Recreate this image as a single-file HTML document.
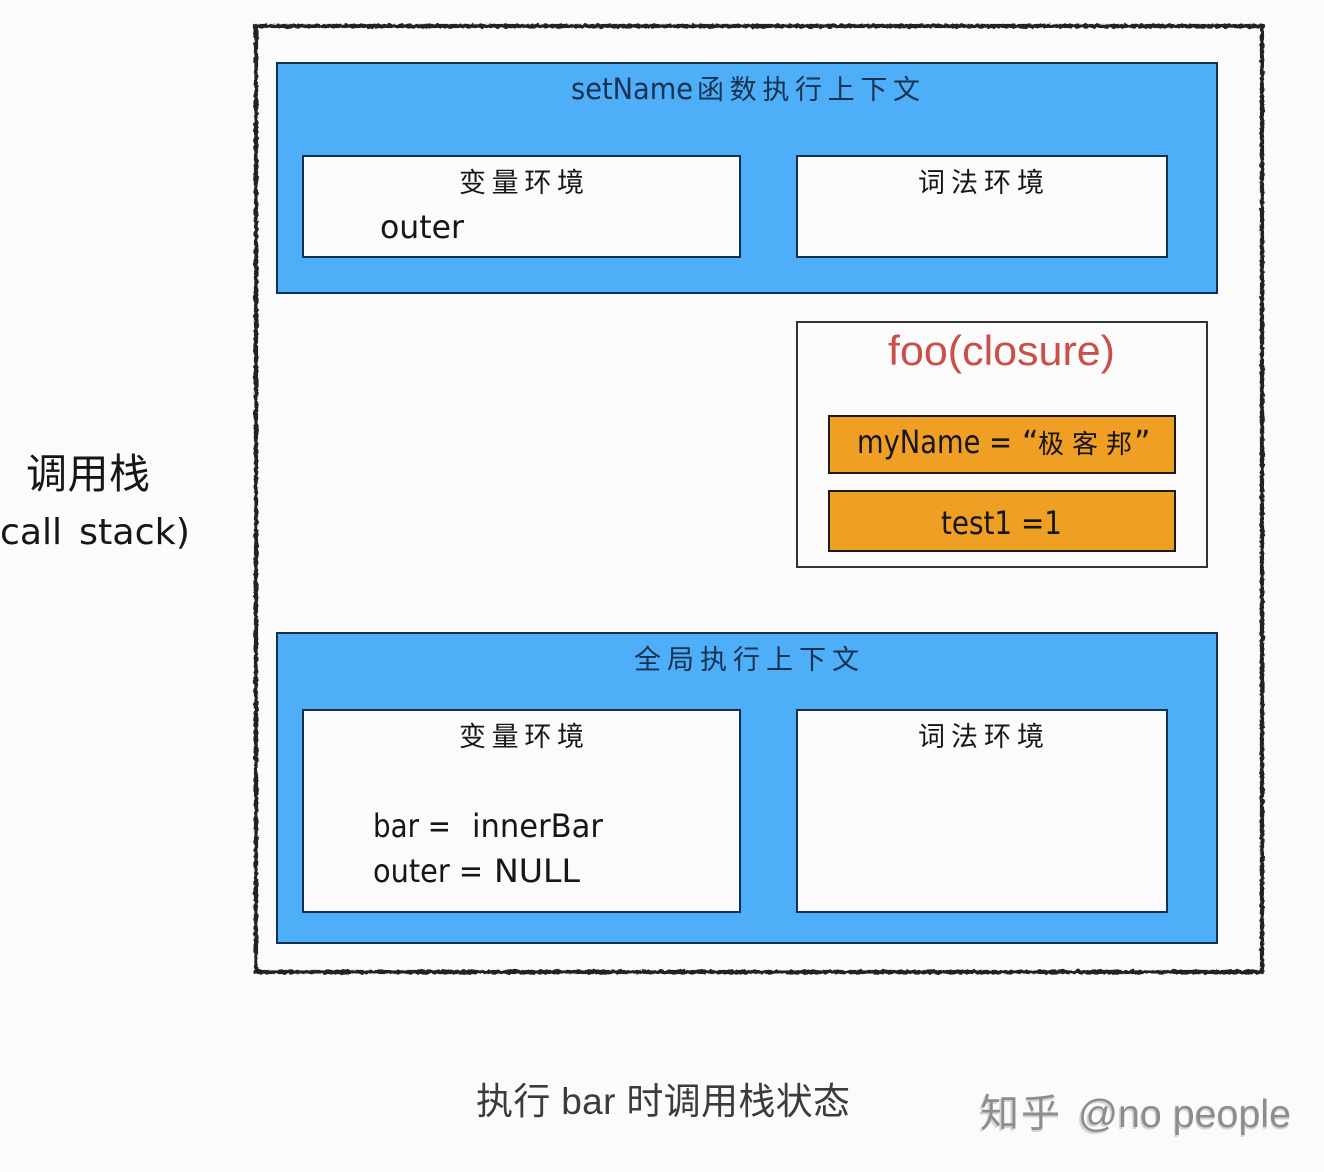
<!DOCTYPE html>
<html>
<head>
<meta charset="utf-8">
<style>
html,body{margin:0;padding:0;background:#fbfbfb}
svg{display:block}
text{font-family:"DejaVu Sans","WenQuanYi Zen Hei","Noto Sans CJK SC",sans-serif;fill:#141414}
.cjk{font-family:"WenQuanYi Zen Hei","Noto Sans CJK SC",sans-serif}
.n{fill:#12304f}
.cap{fill:#3a3a3a;font-family:"Liberation Sans","Noto Sans CJK SC",sans-serif}
.wm{fill:#8d8d8d;font-family:"Liberation Sans","Noto Sans CJK SC",sans-serif}
.wms{fill:#d4d4d4;font-family:"Liberation Sans","Noto Sans CJK SC",sans-serif}
</style>
</head>
<body>
<svg width="1324" height="1172" viewBox="0 0 1324 1172" xmlns="http://www.w3.org/2000/svg">
<defs>
<filter id="rough" x="-2%" y="-2%" width="104%" height="104%">
<feTurbulence type="fractalNoise" baseFrequency="0.25" numOctaves="2" seed="4"/>
<feDisplacementMap in="SourceGraphic" scale="3.5" xChannelSelector="R" yChannelSelector="G"/>
</filter>
<filter id="soft" x="-5%" y="-5%" width="110%" height="110%"><feGaussianBlur stdDeviation="0.35"/></filter>
</defs>
<rect width="1324" height="1172" fill="#fbfbfb"/>

<rect x="256" y="26" width="1006" height="946" fill="none" stroke="#222" stroke-width="4.2" filter="url(#rough)"/>

<rect x="277" y="63" width="940" height="230" fill="#4eaef8" stroke="#12304f" stroke-width="2"/>
<rect x="303" y="156" width="437" height="101" fill="#fbfbfb" stroke="#12304f" stroke-width="2"/>
<rect x="797" y="156" width="370" height="101" fill="#fbfbfb" stroke="#12304f" stroke-width="2"/>

<rect x="797" y="322" width="410" height="245" fill="#fbfbfb" stroke="#333" stroke-width="2"/>
<rect x="829" y="416" width="346" height="57" fill="#ee9f24" stroke="#1a1a1a" stroke-width="2"/>
<rect x="829" y="491" width="346" height="60" fill="#ee9f24" stroke="#1a1a1a" stroke-width="2"/>

<rect x="277" y="633" width="940" height="310" fill="#4eaef8" stroke="#12304f" stroke-width="2"/>
<rect x="303" y="710" width="437" height="202" fill="#fbfbfb" stroke="#12304f" stroke-width="2"/>
<rect x="797" y="710" width="370" height="202" fill="#fbfbfb" stroke="#12304f" stroke-width="2"/>

<g filter="url(#soft)">
<text class="n" x="571" y="99" font-size="29" textLength="122" lengthAdjust="spacingAndGlyphs">setName</text>
<text class="n cjk" x="697" y="99" font-size="27" textLength="223" lengthAdjust="spacing">函数执行上下文</text>
<text class="cjk" x="459" y="192" font-size="27" textLength="125" lengthAdjust="spacing">变量环境</text>
<text x="380" y="238" font-size="32" textLength="84" lengthAdjust="spacingAndGlyphs">outer</text>
<text class="cjk" x="918" y="192" font-size="27" textLength="126" lengthAdjust="spacing">词法环境</text>

<text x="888" y="365" font-size="42" textLength="227" lengthAdjust="spacingAndGlyphs" style="fill:#c9504a;font-family:'Liberation Sans',sans-serif">foo(closure)</text>
<text x="857" y="453" font-size="32" textLength="155" lengthAdjust="spacingAndGlyphs">myName =</text>
<text x="1022" y="453" font-size="32">“</text>
<text class="cjk" x="1038" y="453" font-size="26" textLength="94" lengthAdjust="spacing">极客邦</text>
<text x="1134" y="453" font-size="32">”</text>
<text x="941" y="534" font-size="32" textLength="121" lengthAdjust="spacingAndGlyphs">test1 =1</text>

<text class="n cjk" x="634" y="669" font-size="27" textLength="225" lengthAdjust="spacing">全局执行上下文</text>
<text class="cjk" x="459" y="746" font-size="27" textLength="125" lengthAdjust="spacing">变量环境</text>
<text class="cjk" x="918" y="746" font-size="27" textLength="126" lengthAdjust="spacing">词法环境</text>
<text x="373" y="837" font-size="32" textLength="78" lengthAdjust="spacingAndGlyphs">bar =</text>
<text x="472" y="837" font-size="32" textLength="131" lengthAdjust="spacingAndGlyphs">innerBar</text>
<text x="373" y="882" font-size="32" textLength="110" lengthAdjust="spacingAndGlyphs">outer =</text>
<text x="494" y="882" font-size="32" textLength="86" lengthAdjust="spacingAndGlyphs">NULL</text>

<text class="cjk" x="26" y="488" font-size="41" textLength="124" lengthAdjust="spacing">调用栈</text>
<text x="0" y="544" font-size="36" textLength="62" lengthAdjust="spacingAndGlyphs">call</text>
<text x="79" y="544" font-size="36" textLength="111" lengthAdjust="spacingAndGlyphs">stack)</text>

<text class="cap" x="476" y="1114" font-size="37" textLength="374" lengthAdjust="spacing">执行 bar 时调用栈状态</text>
<text class="wms" x="978" y="1129" font-size="39" textLength="82" lengthAdjust="spacing">知乎</text>
<text class="wms" x="1076" y="1129" font-size="39" textLength="215" lengthAdjust="spacingAndGlyphs">@no people</text>
<text class="wm" x="980" y="1127" font-size="39" textLength="80" lengthAdjust="spacing">知乎</text>
<text class="wm" x="1078" y="1127" font-size="39" textLength="213" lengthAdjust="spacingAndGlyphs">@no people</text>
</g>
</svg>
</body>
</html>
